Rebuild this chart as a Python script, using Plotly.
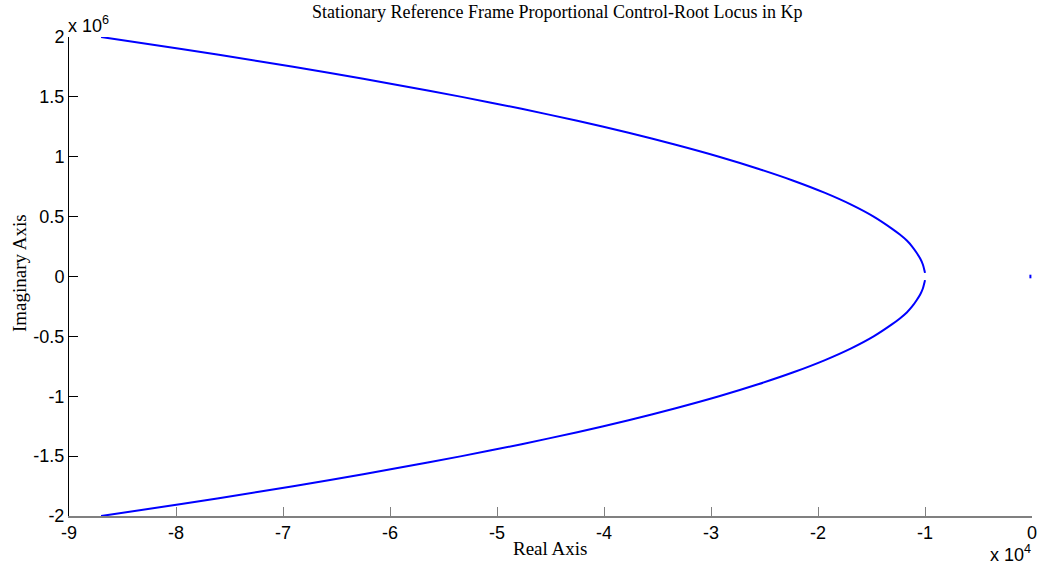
import plotly.graph_objects as go

# Root locus branches (real part in s^-1, imaginary part in rad/s)
upper_real = [-87000, -79500, -72400, -65600, -59300, -53300, -47700, -42500,
              -37700, -33300, -29250, -25600, -22300, -19400, -16900, -14800,
              -13100, -12350, -11700, -11200, -10800, -10450, -10200, -10050, -10000]
upper_imag = [2.0e6, 1.9e6, 1.8e6, 1.7e6, 1.6e6, 1.5e6, 1.4e6, 1.3e6,
              1.2e6, 1.1e6, 1.0e6, 0.9e6, 0.8e6, 0.7e6, 0.6e6, 0.5e6,
              0.4e6, 0.35e6, 0.3e6, 0.25e6, 0.2e6, 0.15e6, 0.1e6, 0.05e6, 0.03e6]

lower_real = [-10000, -10050, -10200, -10450, -10800, -11200, -11700, -12350,
              -13100, -14800, -16900, -19400, -22300, -25600, -29250, -33300,
              -37700, -42500, -47700, -53300, -59300, -65600, -72400, -79500, -87000]
lower_imag = [-0.03e6, -0.05e6, -0.1e6, -0.15e6, -0.2e6, -0.25e6, -0.3e6, -0.35e6,
              -0.4e6, -0.5e6, -0.6e6, -0.7e6, -0.8e6, -0.9e6, -1.0e6, -1.1e6,
              -1.2e6, -1.3e6, -1.4e6, -1.5e6, -1.6e6, -1.7e6, -1.8e6, -1.9e6, -2.0e6]

# Branch staying at the origin
origin_real = [-150, -150]
origin_imag = [-15000, 15000]

x_tick_vals = [-90000, -80000, -70000, -60000, -50000, -40000, -30000, -20000, -10000, 0]
x_tick_text = ["-9", "-8", "-7", "-6", "-5", "-4", "-3", "-2", "-1", "0"]
y_tick_vals = [-2e6, -1.5e6, -1e6, -0.5e6, 0, 0.5e6, 1e6, 1.5e6, 2e6]
y_tick_text = ["-2", "-1.5", "-1", "-0.5", "0", "0.5", "1", "1.5", "2"]

W, H = 1039, 567
L, R, T, B = 69, 7, 37, 51
pw, ph = W - L - R, H - T - B


def px(x):
    return (x - L) / pw


def py(y):
    return (H - B - y) / ph


blue = "#0000FF"
fig = go.Figure()
for xs, ys in [(upper_real, upper_imag), (lower_real, lower_imag), (origin_real, origin_imag)]:
    fig.add_trace(go.Scatter(x=xs, y=ys, mode="lines",
                             line=dict(color=blue, width=2, shape="spline", smoothing=0.8),
                             showlegend=False, hoverinfo="x+y"))

serif = "Liberation Serif, Times New Roman, serif"
sans = "Liberation Sans, Arial, sans-serif"


def label(text, x, y, font, size, xanchor="center", angle=0):
    return dict(text=text, xref="paper", yref="paper", x=px(x), y=py(y),
                xanchor=xanchor, yanchor="middle", showarrow=False, textangle=angle,
                font=dict(family=font, size=size, color="black"))


fig.update_layout(
    width=W, height=H,
    margin=dict(l=L, r=R, t=T, b=B, autoexpand=False),
    plot_bgcolor="white", paper_bgcolor="white",
    xaxis=dict(range=[-90000, 0], tickvals=x_tick_vals, ticktext=x_tick_text,
               showgrid=False, zeroline=False, showline=True, linecolor="#808080",
               linewidth=1.5, ticks="inside", ticklen=9, tickcolor="#808080",
               automargin=False,
               tickfont=dict(family=sans, size=18, color="black")),
    yaxis=dict(range=[-2e6, 2e6], tickvals=y_tick_vals, ticktext=y_tick_text,
               showgrid=False, zeroline=False, showline=True, linecolor="black",
               linewidth=1, ticks="inside", ticklen=9, tickcolor="black",
               automargin=False,
               tickfont=dict(family=sans, size=18, color="black")),
    annotations=[
        label("Stationary Reference Frame Proportional Control-Root Locus in Kp",
              557, 12, serif, 18),
        label("Real Axis", 550, 548, serif, 19),
        label("Imaginary Axis", 19, 273, serif, 19, angle=-90),
        label("x 10<sup>6</sup>", 66, 24, sans, 18, xanchor="left"),
        label("x 10<sup>4</sup>", 988, 553, sans, 18, xanchor="left"),
    ],
)

fig.write_html("out.html")
